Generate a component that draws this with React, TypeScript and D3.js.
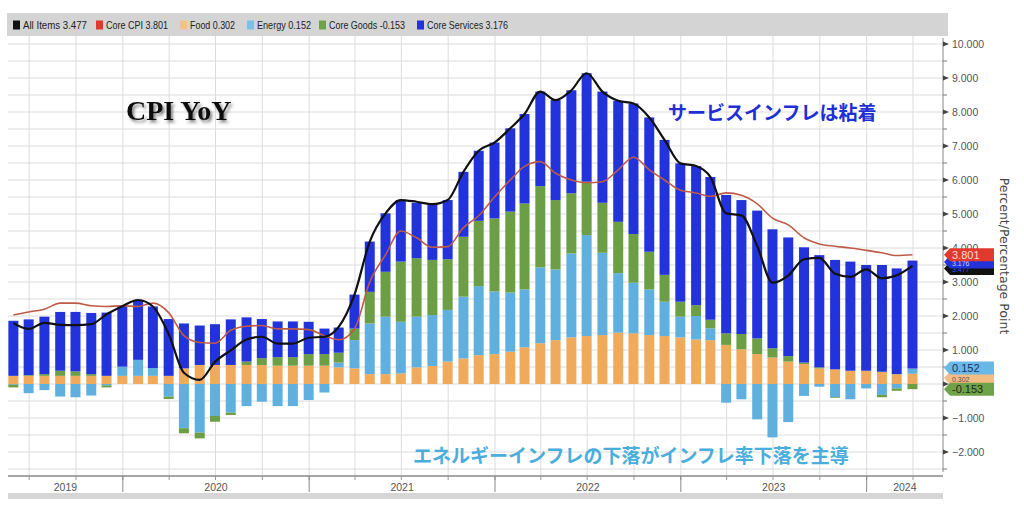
import React from "react";
import * as d3 from "d3";

// monthly observations, plotted at month end
const months = [
  "2019-05", "2019-06", "2019-07", "2019-08", "2019-09", "2019-10", "2019-11", "2019-12",
  "2020-01", "2020-02", "2020-03", "2020-04", "2020-05", "2020-06", "2020-07", "2020-08",
  "2020-09", "2020-10", "2020-11", "2020-12",
  "2021-01", "2021-02", "2021-03", "2021-04", "2021-05", "2021-06", "2021-07", "2021-08",
  "2021-09", "2021-10", "2021-11", "2021-12",
  "2022-01", "2022-02", "2022-03", "2022-04", "2022-05", "2022-06", "2022-07", "2022-08",
  "2022-09", "2022-10", "2022-11", "2022-12",
  "2023-01", "2023-02", "2023-03", "2023-04", "2023-05", "2023-06", "2023-07", "2023-08",
  "2023-09", "2023-10", "2023-11", "2023-12",
  "2024-01", "2024-02", "2024-03",
];

const food = [
  0.24, 0.24, 0.24, 0.24, 0.24, 0.24, 0.24, 0.24,
  0.24, 0.24, 0.24, 0.46, 0.56, 0.56, 0.56, 0.56,
  0.56, 0.54, 0.54, 0.54,
  0.54, 0.49, 0.46, 0.29, 0.29, 0.31, 0.49, 0.53,
  0.66, 0.75, 0.85, 0.88,
  0.95, 1.08, 1.2, 1.29, 1.37, 1.41, 1.44, 1.51,
  1.49, 1.44, 1.41, 1.37,
  1.31, 1.29, 1.15, 1.02, 0.88, 0.78, 0.66, 0.59,
  0.46, 0.43, 0.39, 0.39,
  0.36, 0.29, 0.302,
];

const energy = [
  -0.02, -0.27, -0.18, -0.37, -0.39, -0.34, -0.04, 0.27,
  0.47, 0.23, -0.37, -1.3, -1.43, -0.94, -0.84, -0.65,
  -0.52, -0.65, -0.65, -0.47,
  -0.25, 0.14, 0.83, 1.49, 1.69, 1.52, 1.49, 1.5,
  1.52, 1.82, 2.03, 1.84,
  1.74, 1.7, 2.23, 2.08, 2.47, 2.97, 2.42, 1.75,
  1.49, 1.34, 1.01, 0.61,
  0.69, 0.35, -0.55, -0.45, -1.04, -1.57, -1.12, -0.35,
  -0.08, -0.39, -0.45, -0.13,
  -0.32, -0.13, 0.152,
];

const coreGoods = [
  -0.08, 0.02, 0.05, 0.15, 0.13, 0.05, -0.06, 0.0,
  0.0, 0.0, -0.07, -0.15, -0.17, -0.17, -0.07, 0.1,
  0.2, 0.25, 0.25, 0.34,
  0.34, 0.29, 0.34, 0.93, 1.32, 1.77, 1.72, 1.62,
  1.49, 1.76, 1.92, 2.15,
  2.38, 2.53, 2.39, 2.04, 1.77, 1.57, 1.47, 1.51,
  1.43, 1.11, 0.79, 0.44,
  0.32, 0.25, 0.34, 0.45, 0.46, 0.27, 0.16, 0.04,
  0.03, -0.02, 0.0, 0.0,
  -0.07, -0.07, -0.153,
];

const coreServices = [
  1.62, 1.64, 1.69, 1.73, 1.75, 1.8, 1.86, 1.78,
  1.76, 1.81, 1.67, 1.32, 1.16, 1.2, 1.34, 1.3,
  1.15, 1.05, 1.05, 0.95,
  0.75, 0.74, 1.0, 1.48, 1.72, 1.81, 1.63, 1.64,
  1.74, 1.91, 2.06, 2.23,
  2.45, 2.63, 2.78, 2.94, 3.03, 3.19, 3.27, 3.56,
  3.84, 3.95, 3.97, 4.07,
  4.09, 4.2, 4.07, 3.94, 3.76, 3.5, 3.49, 3.39,
  3.3, 3.22, 3.21, 3.11,
  3.14, 3.11, 3.176,
];

const allItems = [
  1.79, 1.62, 1.8, 1.74, 1.73, 1.76, 2.05, 2.29,
  2.47, 2.28, 1.47, 0.33, 0.12, 0.65, 0.99, 1.31,
  1.39, 1.19, 1.19, 1.36,
  1.39, 1.68, 2.63, 4.19, 5.02, 5.41, 5.36, 5.29,
  5.41, 6.24, 6.86, 7.1,
  7.52, 7.94, 8.6, 8.35, 8.64, 9.14, 8.6, 8.33,
  8.25, 7.84, 7.18, 6.49,
  6.41, 6.09, 5.02, 4.96, 4.06, 2.98, 3.19, 3.67,
  3.71, 3.24, 3.15, 3.37,
  3.11, 3.2, 3.477,
];

const coreCpi = [
  2.03, 2.12, 2.2, 2.38, 2.38, 2.3, 2.28, 2.3,
  2.28, 2.38, 2.1, 1.42, 1.22, 1.2, 1.58, 1.7,
  1.72, 1.62, 1.62, 1.6,
  1.42, 1.3, 1.62, 3.0, 3.8, 4.5, 4.3, 4.02,
  4.04, 4.6, 4.95, 5.5,
  6.0, 6.4, 6.54, 6.2, 6.0, 5.92, 5.95, 6.3,
  6.67, 6.3, 6.0, 5.7,
  5.62, 5.52, 5.62, 5.55, 5.3, 4.88, 4.68, 4.3,
  4.12, 4.05, 4.0, 3.93,
  3.86, 3.78, 3.801,
];

// 0.000 sits fully behind the value tags in the original
const yTicks = [-2, -1, 1, 2, 3, 4, 5, 6, 7, 8, 9, 10];
const years = ["2019", "2020", "2021", "2022", "2023", "2024"];

const legendItems = [
  { label: "All Items 3.477", color: "#111111", x: 13, w: 64 },
  { label: "Core CPI 3.801", color: "#e03a2f", x: 96, w: 62 },
  { label: "Food 0.302", color: "#f6c08a", x: 180, w: 45 },
  { label: "Energy 0.152", color: "#7cc0e8", x: 247, w: 54 },
  { label: "Core Goods -0.153", color: "#6fa34a", x: 319, w: 76 },
  { label: "Core Services 3.176", color: "#2433d8", x: 417, w: 81 },
];

const seriesKeys = ["food", "energy", "coreGoods", "coreServices"];
const seriesColors: Record<string, string> = {
  food: "#f0aa5c",
  energy: "#5fb0de",
  coreGoods: "#6b9e45",
  coreServices: "#2233dc",
};

// plot frame
const PL = 8;
const PR = 943;
const PT = 36;
const PB = 476;

const App: React.FC = () => {
  const x = d3
    .scaleTime()
    .domain([new Date(2019, 0, 1), new Date(2025, 0, 1)])
    .range([-63, 1053]);
  const y = d3.scaleLinear().domain([0, 10]).range([384, 44]);

  const dates = months.map((m) => {
    const [yy, mm] = m.split("-").map(Number);
    return new Date(yy, mm, 0);
  });

  const rows = months.map((m, i) => ({
    date: dates[i],
    food: food[i],
    energy: energy[i],
    coreGoods: coreGoods[i],
    coreServices: coreServices[i],
  }));

  const stacked = d3
    .stack<(typeof rows)[number]>()
    .keys(seriesKeys)
    .offset(d3.stackOffsetDiverging)(rows as any);

  const barW = 10;

  const line = d3
    .line<number>()
    .x((_, i) => x(dates[i]))
    .y((v) => y(v))
    .curve(d3.curveMonotoneX);

  const quarters = d3.timeMonth
    .every(3)!
    .range(new Date(2019, 3, 1), new Date(2024, 6, 1))
    .filter((d) => x(d) > PL && x(d) < PR);
  const yearStarts = d3.timeYear
    .range(new Date(2020, 0, 1), new Date(2025, 0, 1))
    .filter((d) => x(d) < PR);

  const hGrid = d3.range(-2.5, 10.01, 0.5);

  const yearLabelX = (yr: string) => {
    const a = Math.max(PL, x(new Date(+yr, 0, 1)));
    const b = Math.min(PR, x(new Date(+yr + 1, 0, 1)));
    return (a + b) / 2;
  };

  // value tag on the right axis; ty/fs let the half-hidden ones keep a small label
  const tag = (
    cy: number,
    color: string,
    text: string,
    textColor: string,
    ty: number = cy + 4,
    fs: number = 11,
  ) => (
    <g key={text + color}>
      <path
        d={`M${PR + 1},${cy} L${PR + 7},${cy - 6.5} L${PR + 51},${cy - 6.5} L${PR + 51},${cy + 6.5} L${PR + 7},${cy + 6.5} Z`}
        fill={color}
      />
      <text x={PR + 9} y={ty} fontSize={fs} fill={textColor}>
        {text}
      </text>
    </g>
  );

  return (
    <svg
      width={1024}
      height={508}
      style={{ position: "absolute", left: 0, top: 0, background: "#fff" }}
      fontFamily="'Liberation Sans', Arial, sans-serif"
    >
      <defs>
        <filter id="shadow" x="-10%" y="-30%" width="130%" height="170%">
          <feDropShadow dx="2" dy="2.5" stdDeviation="1.6" floodColor="#666" floodOpacity="0.8" />
        </filter>
      </defs>

      {/* legend band */}
      <rect x={7} y={13} width={941} height={23} fill="#d4d4d4" />
      {legendItems.map((d) => (
        <g key={d.label}>
          <rect x={d.x} y={20.5} width={7} height={9} fill={d.color} />
          <text
            x={d.x + 10}
            y={29}
            fontSize={11}
            fill="#222"
            textLength={d.w}
            lengthAdjust="spacingAndGlyphs"
          >
            {d.label}
          </text>
        </g>
      ))}

      {/* grid */}
      {hGrid.map((v) => (
        <line key={"h" + v} x1={PL} x2={PR} y1={y(v)} y2={y(v)} stroke="#dcdcdc" strokeWidth={1} />
      ))}
      {quarters.map((d) => (
        <line
          key={"q" + d.getTime()}
          x1={x(d)}
          x2={x(d)}
          y1={PT}
          y2={PB}
          stroke="#dcdcdc"
          strokeWidth={1}
        />
      ))}

      {/* stacked bars */}
      {stacked.map((s) => (
        <g key={s.key} fill={seriesColors[s.key]}>
          {s.map((seg, i) =>
            seg[1] - seg[0] === 0 ? null : (
              <rect
                key={i}
                x={x(dates[i]) - barW / 2}
                width={barW}
                y={y(Math.max(seg[0], seg[1]))}
                height={Math.abs(y(seg[0]) - y(seg[1]))}
              />
            ),
          )}
        </g>
      ))}

      {/* lines */}
      <path d={line(coreCpi) ?? ""} fill="none" stroke="#bf5a46" strokeWidth={1.6} />
      <path d={line(allItems) ?? ""} fill="none" stroke="#111" strokeWidth={2.2} strokeLinejoin="round" />

      {/* x axis */}
      <line x1={PL} x2={PR} y1={PB} y2={PB} stroke="#888" strokeWidth={1.5} />
      {quarters.map((d) => (
        <line key={"qt" + d.getTime()} x1={x(d)} x2={x(d)} y1={PB} y2={PB + 4} stroke="#999" />
      ))}
      {yearStarts.map((d) => (
        <line key={"yt" + d.getTime()} x1={x(d)} x2={x(d)} y1={PB} y2={PB + 16} stroke="#888" />
      ))}
      {years.map((yr) => (
        <text key={yr} x={yearLabelX(yr)} y={491} fontSize={10.5} fill="#555" textAnchor="middle">
          {yr}
        </text>
      ))}
      <rect x={PL} y={493} width={PR - PL} height={6} fill="#d6d6d6" />

      {/* right axis */}
      <line x1={PR} x2={PR} y1={PT + 2} y2={PB - 4} stroke="#888" strokeWidth={1} />
      {hGrid.map((v) =>
        Number.isInteger(v) ? null : (
          <line key={"m" + v} x1={PR} x2={PR + 4} y1={y(v)} y2={y(v)} stroke="#777" />
        ),
      )}
      {[0, ...yTicks].map((v) => (
        <path
          key={"tk" + v}
          d={`M${PR},${y(v) - 2.5} L${PR + 6},${y(v)} L${PR},${y(v) + 2.5} Z`}
          fill="#444"
        />
      ))}
      {yTicks.map((v) => (
        <text key={"yl" + v} x={PR + 9} y={y(v) + 4} fontSize={10.5} fill="#555">
          {d3.format(".3f")(v)}
        </text>
      ))}
      <text
        transform="translate(1000,256) rotate(90)"
        textAnchor="middle"
        fontSize={12.5}
        fill="#444"
        fontFamily="'DejaVu Sans', sans-serif"
      >
        Percent/Percentage Point
      </text>

      {/* last-value tags */}
      {tag(268.5, "#111", "3.477", "#3a4cff", 272, 7)}
      {tag(262, "#2433d8", "3.176", "#c8ccff", 266, 7)}
      {tag(y(3.801), "#e03a2f", "3.801", "#ffd6d2", 258.5)}
      {tag(378, "#f2bc82", "0.302", "#555", 381.5, 7)}
      {tag(368, "#6ab8e6", "0.152", "#1a2f6a", 372)}
      {tag(y(-0.153), "#6fa34a", "-0.153", "#1d2a10", 393)}

      {/* annotations */}
      <text
        x={126}
        y={120}
        fontSize={28}
        fontWeight="bold"
        fill="#111"
        fontFamily="'Liberation Serif', 'Times New Roman', serif"
        filter="url(#shadow)"
      >
        CPI YoY
      </text>
      <text
        x={668}
        y={120}
        fontSize={19}
        fontWeight="bold"
        fill="#1f2fd4"
        fontFamily="'Noto Sans CJK JP', sans-serif"
      >
        サービスインフレは粘着
      </text>
      <text
        x={413}
        y={463}
        fontSize={19}
        fontWeight="bold"
        fill="#4aaedc"
        fontFamily="'Noto Sans CJK JP', sans-serif"
      >
        エネルギーインフレの下落がインフレ率下落を主導
      </text>
    </svg>
  );
};

export default App;
